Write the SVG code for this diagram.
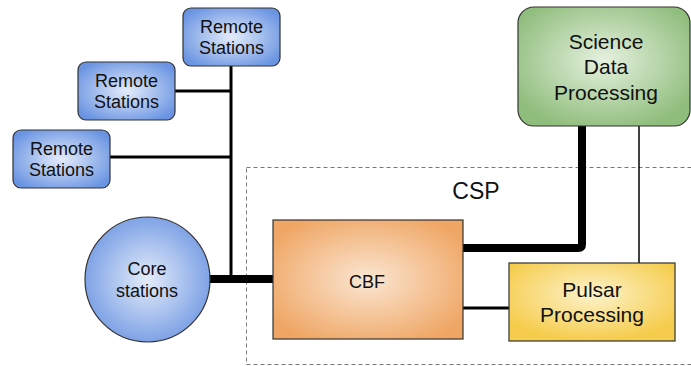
<svg xmlns="http://www.w3.org/2000/svg" width="691" height="366" viewBox="0 0 691 366">
<defs>
<radialGradient id="gBlue" cx="50%" cy="50%" r="60%">
<stop offset="0" stop-color="#e4ecfa"/>
<stop offset="1" stop-color="#6a94e2"/>
</radialGradient>
<radialGradient id="gGreen" cx="50%" cy="45%" r="60%">
<stop offset="0" stop-color="#e6f1df"/>
<stop offset="1" stop-color="#8fbd7c"/>
</radialGradient>
<radialGradient id="gOrange" cx="50%" cy="50%" r="60%">
<stop offset="0" stop-color="#fbe6d2"/>
<stop offset="1" stop-color="#efa664"/>
</radialGradient>
<radialGradient id="gYellow" cx="50%" cy="40%" r="60%">
<stop offset="0" stop-color="#fdf3cc"/>
<stop offset="1" stop-color="#f5cc4c"/>
</radialGradient>
</defs>
<style>
text{font-family:"Liberation Sans",Arial,sans-serif;fill:#111;text-anchor:middle}
.rs{font-size:18px}
.big{font-size:21px}
.box{stroke:#333;stroke-width:1.2}
.ln{stroke:#000;fill:none}
</style>
<rect x="246.5" y="167.5" width="460" height="197" fill="none" stroke="#777" stroke-width="1" stroke-dasharray="4,3"/>
<text x="476" y="199" style="font-size:23px;text-anchor:middle">CSP</text>
<g id="connectors">
<line class="ln" x1="231" y1="66" x2="231" y2="281" stroke-width="3"/>
<line class="ln" x1="175" y1="91" x2="231" y2="91" stroke-width="3"/>
<line class="ln" x1="110" y1="157" x2="231" y2="157" stroke-width="3"/>
<line class="ln" x1="208" y1="279" x2="274" y2="279" stroke-width="8"/>
<path class="ln" d="M462 248 H578 Q582 248 582 244 V125" stroke-width="8"/>
<line class="ln" x1="462" y1="308" x2="510" y2="308" stroke-width="3"/>
<line class="ln" x1="639" y1="125" x2="639" y2="264" stroke-width="1.5"/>
</g>
<g id="remote1">
<rect class="box" x="183" y="8" width="97" height="58" rx="8" fill="url(#gBlue)"/>
<text class="rs" x="231.5" y="33">Remote</text>
<text class="rs" x="231.5" y="54">Stations</text>
</g>
<g id="remote2">
<rect class="box" x="78" y="62" width="97" height="58" rx="8" fill="url(#gBlue)"/>
<text class="rs" x="126.5" y="87">Remote</text>
<text class="rs" x="126.5" y="108">Stations</text>
</g>
<g id="remote3">
<rect class="box" x="13" y="130" width="97" height="58" rx="8" fill="url(#gBlue)"/>
<text class="rs" x="61.5" y="155">Remote</text>
<text class="rs" x="61.5" y="176">Stations</text>
</g>
<g id="core">
<circle class="box" cx="147.5" cy="279.5" r="62.5" fill="url(#gBlue)"/>
<text class="rs" x="147" y="275">Core</text>
<text class="rs" x="147" y="297">stations</text>
</g>
<g id="cbf">
<rect class="box" x="273" y="220" width="190" height="119" fill="url(#gOrange)"/>
<text class="rs" x="367" y="288">CBF</text>
</g>
<g id="sdp">
<rect class="box" x="518" y="7" width="172" height="119" rx="16" fill="url(#gGreen)"/>
<text class="big" x="606" y="49">Science</text>
<text class="big" x="606" y="74">Data</text>
<text class="big" x="606" y="100">Processing</text>
</g>
<g id="pulsar">
<rect class="box" x="509" y="263" width="166" height="78" fill="url(#gYellow)"/>
<text class="big" x="592" y="297">Pulsar</text>
<text class="big" x="592" y="322">Processing</text>
</g>
</svg>
